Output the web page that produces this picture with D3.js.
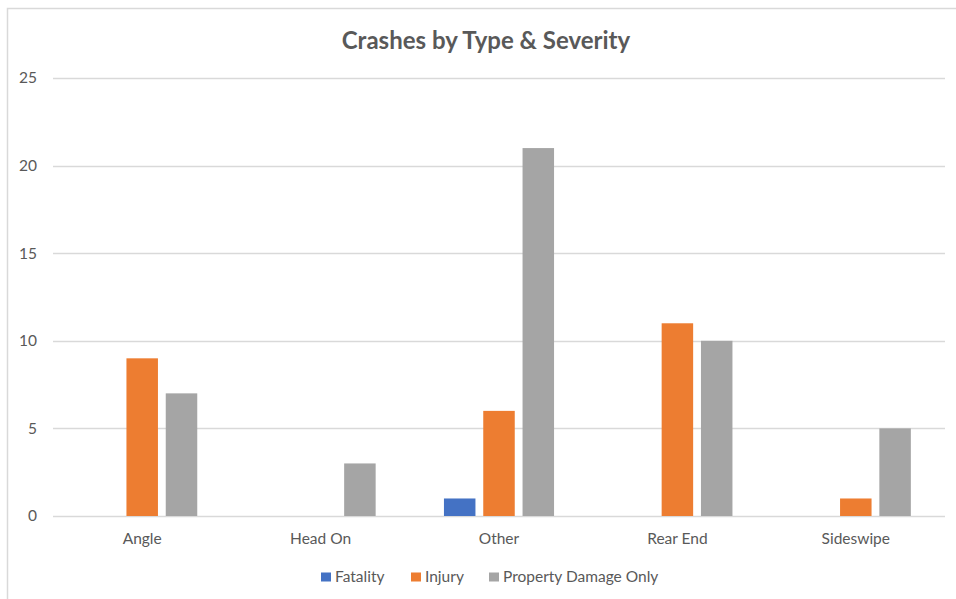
<!DOCTYPE html>
<html>
<head>
<meta charset="utf-8">
<script src="https://cdn.jsdelivr.net/npm/d3@7"></script>
<style>
  html, body { margin: 0; padding: 0; background: #fff; }
  svg { display: block; font-family: Lato, "Open Sans", sans-serif; }
</style>
</head>
<body>
<svg id="chart" width="956" height="599"></svg>
<script>
// Crash counts by collision type, split by severity
const categories = ["Angle", "Head On", "Other", "Rear End", "Sideswipe"];
const seriesNames = ["Fatality", "Injury", "Property Damage Only"];
const fatality = [0, 0, 1, 0, 0];
const injury = [9, 0, 6, 11, 1];
const propertyDamage = [7, 3, 21, 10, 5];
const yTicks = [0, 5, 10, 15, 20, 25];
const colors = ["#4472C4", "#ED7D31", "#A5A5A5"];

const seriesValues = [fatality, injury, propertyDamage];

const svg = d3.select("#chart");
const textColor = "#595959";
const labelSize = 15.5;

// Outer chart frame
svg.append("rect")
  .attr("x", 7.5).attr("y", 8.5)
  .attr("width", 970).attr("height", 620)
  .attr("fill", "#fff")
  .attr("stroke", "#d9d9d9").attr("stroke-width", 1.5);

const plot = { left: 53, right: 945, top: 78, bottom: 516 };

const x = d3.scaleBand()
  .domain(categories)
  .range([plot.left, plot.right])
  .paddingInner(0).paddingOuter(0);

const y = d3.scaleLinear()
  .domain([0, 25])
  .range([plot.bottom, plot.top]);

// Gridlines
svg.append("g")
  .selectAll("line")
  .data(yTicks)
  .join("line")
  .attr("x1", plot.left).attr("x2", plot.right)
  .attr("y1", d => Math.round(y(d)) + 0.5)
  .attr("y2", d => Math.round(y(d)) + 0.5)
  .attr("stroke", "#d9d9d9").attr("stroke-width", 1.3);

// Y tick labels
svg.append("g")
  .selectAll("text")
  .data(yTicks)
  .join("text")
  .attr("x", 37)
  .attr("y", d => y(d))
  .attr("dy", "0.35em")
  .attr("text-anchor", "end")
  .attr("font-size", labelSize)
  .attr("fill", textColor)
  .text(d => d);

// Bars: step and width within each category band
const step = 39.3;
const barW = 31.5;
const groups = svg.append("g")
  .selectAll("g")
  .data(categories)
  .join("g");

groups.selectAll("rect")
  .data((c, i) => seriesValues.map((vals, s) => ({ s, v: vals[i], c })))
  .join("rect")
  .attr("x", d => x(d.c) + x.bandwidth() / 2 + (d.s - 1) * step - barW / 2)
  .attr("y", d => y(d.v))
  .attr("width", barW)
  .attr("height", d => y(0) - y(d.v))
  .attr("fill", d => colors[d.s]);

// Category labels
svg.append("g")
  .selectAll("text")
  .data(categories)
  .join("text")
  .attr("x", d => x(d) + x.bandwidth() / 2)
  .attr("y", 539)
  .attr("dy", "0.35em")
  .attr("text-anchor", "middle")
  .attr("font-size", labelSize)
  .attr("fill", textColor)
  .text(d => d);

// Title
svg.append("text")
  .attr("x", 486)
  .attr("y", 41)
  .attr("dy", "0.35em")
  .attr("text-anchor", "middle")
  .attr("font-size", 24)
  .attr("font-weight", "bold")
  .attr("fill", textColor)
  .text("Crashes by Type & Severity");

// Legend
const legendX = [321, 411, 489];
const legend = svg.append("g")
  .selectAll("g")
  .data(seriesNames)
  .join("g")
  .attr("transform", (d, i) => `translate(${legendX[i]},577)`);
legend.append("rect")
  .attr("x", 0).attr("y", -4.5)
  .attr("width", 10).attr("height", 9)
  .attr("fill", (d, i) => colors[i]);
legend.append("text")
  .attr("x", 14)
  .attr("y", 0)
  .attr("dy", "0.35em")
  .attr("font-size", labelSize)
  .attr("fill", textColor)
  .text(d => d);
</script>
</body>
</html>
